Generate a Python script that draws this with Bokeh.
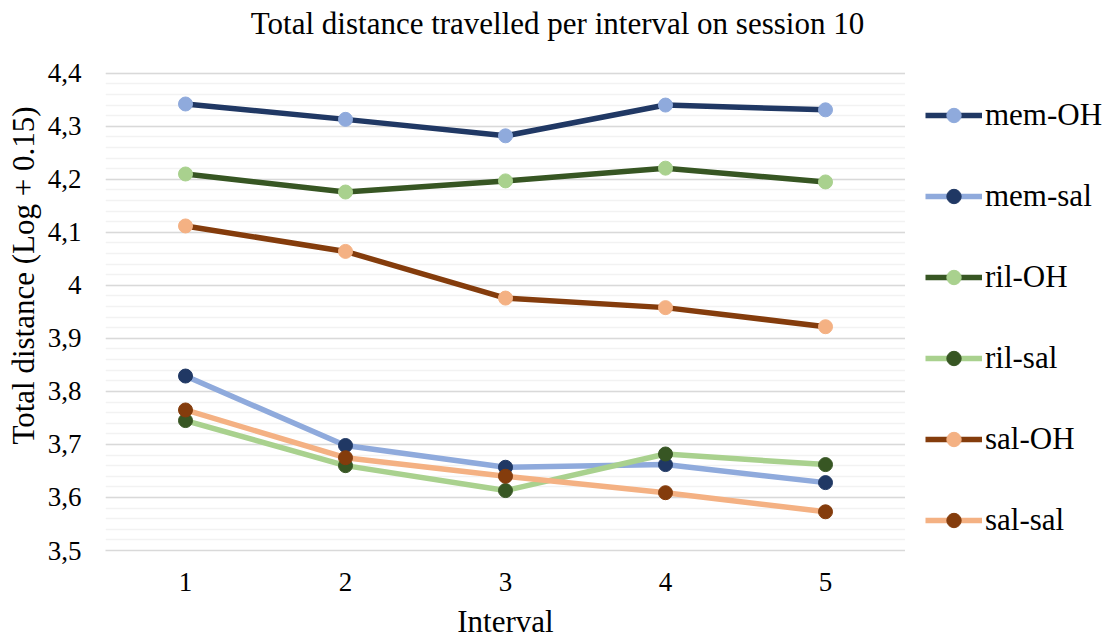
from bokeh.plotting import figure
from bokeh.layouts import row
from bokeh.models import (FixedTicker, CustomJSTickFormatter, Legend, LegendItem, ColumnDataSource, Label)
from bokeh.embed import file_html
from bokeh.resources import INLINE

intervals = [1, 2, 3, 4, 5]
mem_OH = [4.342, 4.313, 4.282, 4.340, 4.331]
mem_sal = [3.829, 3.698, 3.657, 3.662, 3.628]
ril_OH = [4.210, 4.176, 4.197, 4.221, 4.195]
ril_sal = [3.745, 3.660, 3.613, 3.682, 3.662]
sal_OH = [4.112, 4.064, 3.976, 3.958, 3.922]
sal_sal = [3.765, 3.675, 3.640, 3.609, 3.573]

series_names = ["mem-OH", "mem-sal", "ril-OH", "ril-sal", "sal-OH", "sal-sal"]
series_values = [mem_OH, mem_sal, ril_OH, ril_sal, sal_OH, sal_sal]
line_colors = ["#203864", "#8FAADC", "#375623", "#A9D18E", "#843C0C", "#F4B183"]
marker_colors = ["#8FAADC", "#203864", "#A9D18E", "#375623", "#F4B183", "#843C0C"]

y_ticks = [3.5, 3.6, 3.7, 3.8, 3.9, 4.0, 4.1, 4.2, 4.3, 4.4]
y_minor = [round(3.5 + 0.02 * i, 2) for i in range(46)]
y_min, y_max = 3.5, 4.4
x_min, x_max = 0.5, 5.5

title_text = "Total distance travelled per interval on session 10"
x_label = "Interval"
y_label = "Total distance (Log + 0.15)"

FONT = "Liberation Serif"

W, H = 1114, 641
MAIN_W = 905
LEG_W = W - MAIN_W
LEFT, BOTTOM, TOP_PLOT = 105, 89, 73
frame_h = H - BOTTOM
px_per_y = (frame_h - TOP_PLOT) / (y_max - y_min)
y_top = y_min + frame_h / px_per_y

p = figure(width=MAIN_W, height=H, x_range=(x_min, x_max), y_range=(y_min, y_top),
           min_border_left=LEFT, min_border_right=0, min_border_top=0, min_border_bottom=BOTTOM,
           output_backend="svg", toolbar_location=None)

p.outline_line_color = None
p.background_fill_color = "white"
p.border_fill_color = "white"

# axes
p.xaxis.ticker = FixedTicker(ticks=intervals)
p.xaxis.axis_label = x_label
p.xaxis.axis_label_text_font = FONT
p.xaxis.axis_label_text_font_size = "31px"
p.xaxis.axis_label_text_font_style = "normal"
p.xaxis.axis_label_text_color = "#000000"
p.xaxis.major_label_text_font = FONT
p.xaxis.major_label_text_font_size = "27px"
p.xaxis.major_label_text_color = "#000000"
p.xaxis.major_label_standoff = 16
p.xaxis.axis_label_standoff = 10
p.xaxis.axis_line_color = "#D9D9D9"
p.xaxis.axis_line_width = 1.5
p.xaxis.major_tick_line_color = None
p.xaxis.minor_tick_line_color = None

p.yaxis.ticker = FixedTicker(ticks=y_ticks, minor_ticks=y_minor)
p.yaxis.formatter = CustomJSTickFormatter(code="return (Math.round(tick*10)/10).toString().replace('.', ',');")
p.yaxis.axis_label = y_label
p.yaxis.axis_label_text_font = FONT
p.yaxis.axis_label_text_font_size = "31px"
p.yaxis.axis_label_text_font_style = "normal"
p.yaxis.axis_label_text_color = "#000000"
p.yaxis.major_label_text_font = FONT
p.yaxis.major_label_text_font_size = "27px"
p.yaxis.major_label_text_color = "#000000"
p.yaxis.major_label_standoff = 18
p.yaxis.axis_label_standoff = 4
p.yaxis.axis_line_color = None
p.yaxis.major_tick_line_color = None
p.yaxis.minor_tick_line_color = None

p.xgrid.grid_line_color = None
p.ygrid.grid_line_color = "#D9D9D9"
p.ygrid.grid_line_width = 1.5
p.ygrid.minor_grid_line_color = "#F2F2F2"
p.ygrid.minor_grid_line_width = 1.5

for name, vals, lc, mc in zip(series_names, series_values, line_colors, marker_colors):
    src = ColumnDataSource(dict(x=intervals, y=vals))
    p.line("x", "y", source=src, line_color=lc, line_width=5.5)
    p.scatter("x", "y", source=src, size=14, fill_color=mc, line_color=mc)

title = Label(x=W / 2 - LEFT, y=frame_h - 25, x_units="screen", y_units="screen",
              text=title_text, text_font=FONT, text_font_size="31px", text_color="#000000",
              text_align="center", text_baseline="middle")
p.add_layout(title)

# legend panel on the right (series drawn out of view so that only their legend shows)
lp = figure(width=LEG_W, height=H, x_range=(-10, -9), y_range=(0, 1),
            x_axis_location=None, y_axis_location=None, min_border=0,
            output_backend="svg", toolbar_location=None)
lp.outline_line_color = None
lp.xgrid.visible = False
lp.ygrid.visible = False
lp.background_fill_color = "white"
lp.border_fill_color = "white"

items = []
for name, vals, lc, mc in zip(series_names, series_values, line_colors, marker_colors):
    src = ColumnDataSource(dict(x=intervals, y=vals))
    lr = lp.line("x", "y", source=src, line_color=lc, line_width=5.5)
    cr = lp.scatter("x", "y", source=src, size=14, fill_color=mc, line_color=mc)
    items.append(LegendItem(label=name, renderers=[lr, cr]))

legend = Legend(items=items, location=(20, 12), orientation="vertical")
legend.label_text_font = FONT
legend.label_text_font_size = "31px"
legend.label_text_color = "#000000"
legend.glyph_width = 57
legend.glyph_height = 36
legend.label_height = 36
legend.spacing = 45
legend.padding = 0
legend.margin = 0
legend.label_standoff = 3
legend.border_line_color = None
legend.background_fill_alpha = 0
lp.add_layout(legend, "center")

layout = row(p, lp, spacing=0)
open("out.html", "w").write(file_html(layout, INLINE))
